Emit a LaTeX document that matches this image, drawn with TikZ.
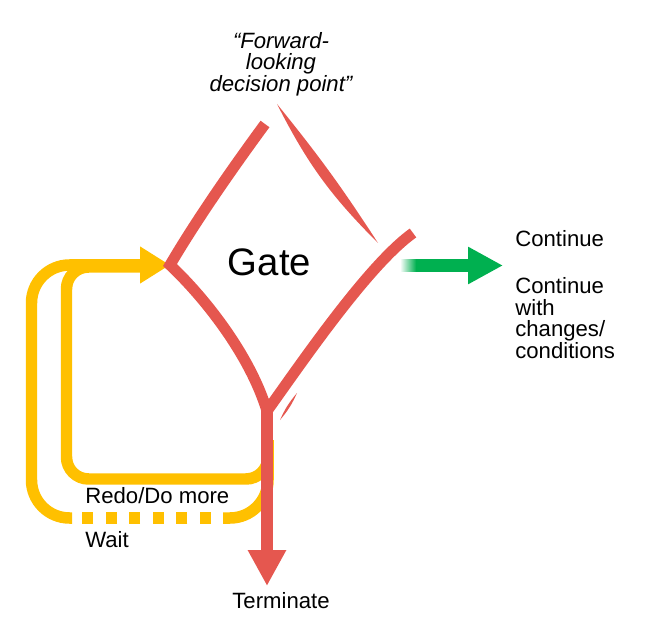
\documentclass[tikz,border=0pt]{standalone}
\usepackage{fontspec}
\setmainfont{Liberation Sans}
\usetikzlibrary{positioning}
\usetikzlibrary{calc}
\usetikzlibrary{arrows.meta}
\definecolor{gate red}{RGB}{229,87,79}
\definecolor{redo yellow}{RGB}{255,192,0}
\definecolor{go green}{RGB}{0,176,80}
\newcommand{\captionfont}{\fontsize{12.6}{12.3}\selectfont\lineskiplimit=-20pt\relax}
\tikzset{
    % Everything is measured in pixels of the sketch, 1px = 0.02cm
    >=Triangle,
%
    % Text styles
    caption text/.style={inner sep=0, font=\captionfont},
    gate text/.style={inner sep=0, font=\fontsize{21.8}{24}\selectfont},
    % Lines
    redo line/.style={draw=redo yellow, line width=0.23cm, line cap=butt},
    brush/.style={draw=gate red, line width=0.22cm, line join=miter},
    brush tip/.style={fill=gate red},
%
    % We almost always want centre aligned node text
    every node/.style={align=center},
}

\begin{document}
\begin{tikzpicture}[
    x=0.02cm, y=-0.02cm,
    exit arrow/.style={line width=0.24cm, -{Triangle[length=0.72cm, width=0.72cm]}},
    redo arrow/.style={-{Triangle[length=0.6cm, width=0.7cm]}},
]

% Keep the page the size of the sketch
\useasboundingbox (0,0) rectangle (649,638);

% Corners of the gate and the ends of the arrows
\coordinate (gate left) at (170,265);
\coordinate (gate bottom) at (267,411);
\coordinate (gate top) at (265,124);
\coordinate (gate flick) at (413,233);
\coordinate (redo from) at (268,440);
\coordinate (go from) at (400,265.5);
\coordinate (go tip) at (503,265.5);
\coordinate (stop tip) at (267,586);

% Two loops back into the gate, the outer one dashed along the bottom
\draw [redo line, rounded corners=0.44cm]
    (redo from) |- (66.5,479) |- (140,267);
\draw [redo line, rounded corners=0.76cm] (redo from) |- (223,518);
\draw [redo line, dash pattern=on 0.22cm off 0.252cm] (211,518) -- (81.7,518);
\draw [redo line, redo arrow, rounded corners=0.76cm]
    (72,518) -| (31.5,265) -- (gate left);

% Way out at the bottom
\draw [gate red, exit arrow, line width=0.234cm] (gate bottom) -- (stop tip);

% Way out to the right, fading in at its start
\draw [go green, exit arrow, line width=0.248cm,
    -{Triangle[length=0.7cm, width=0.7cm]}] (go from) -- (go tip);
\shade [left color=white, right color=go green]
    ($(go from)+(0,-6.2)$) rectangle ($(go from)+(16,6.2)$);

% The gate itself, drawn as brush strokes
\draw [brush] (gate top) .. controls (240,158) and (200,214) .. (gate left)
    .. controls (205,298) and (250,355) .. (gate bottom)
    .. controls (300,365) and (368,265) .. (gate flick);
\fill [brush tip] (277,104) to [bend left=3] (378,243) to [bend left=9] (277,104);
\fill [brush tip] (297,393) to [bend left=8] (280,420) to [bend left=8] (297,393);

\node [gate text] (gate) at (269.5,262) {Gate};

% Labels, multi-line ones placed by the baseline of their last line
\node [caption text, anchor=base, font=\captionfont\itshape] (forward)
    at (281,91.5) {“Forward-\\looking\\decision point”};
\node [caption text, anchor=base west] (continue) at (515,246.7) {Continue};
\node [caption text, anchor=base west, align=left] (continue cond)
    at (515,358.3) {Continue\\with\\changes/\\conditions};
\node [caption text, anchor=base west] (redo) at (85,503.3) {Redo/Do more};
\node [caption text, anchor=base west] (wait) at (85,547) {Wait};
\node [caption text, anchor=base] (terminate) at (281,608.3) {Terminate};

\end{tikzpicture}
\end{document}
